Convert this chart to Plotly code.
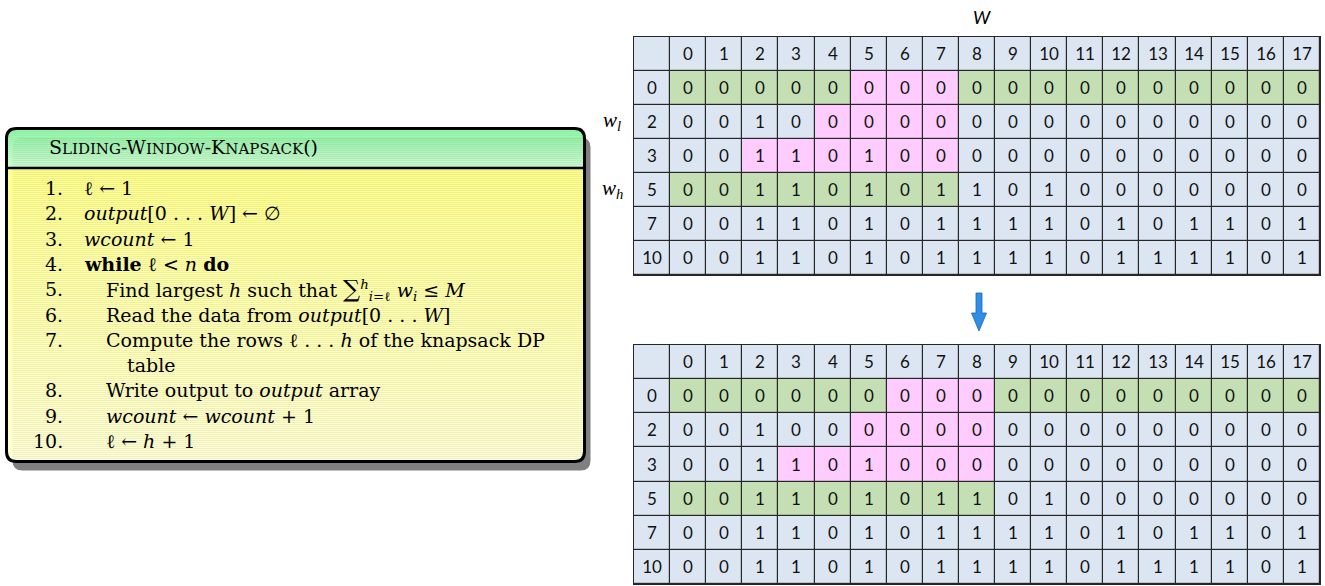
import plotly.graph_objects as go

W_PX, H_PX = 1325, 586

# ---------------- data ----------------
col_labels = ["0", "1", "2", "3", "4", "5", "6", "7", "8", "9",
              "10", "11", "12", "13", "14", "15", "16", "17"]
row_labels = ["0", "2", "3", "5", "7", "10"]

dp_values = [
    [0, 0, 0, 0, 0, 0, 0, 0, 0, 0, 0, 0, 0, 0, 0, 0, 0, 0],
    [0, 0, 1, 0, 0, 0, 0, 0, 0, 0, 0, 0, 0, 0, 0, 0, 0, 0],
    [0, 0, 1, 1, 0, 1, 0, 0, 0, 0, 0, 0, 0, 0, 0, 0, 0, 0],
    [0, 0, 1, 1, 0, 1, 0, 1, 1, 0, 1, 0, 0, 0, 0, 0, 0, 0],
    [0, 0, 1, 1, 0, 1, 0, 1, 1, 1, 1, 0, 1, 0, 1, 1, 0, 1],
    [0, 0, 1, 1, 0, 1, 0, 1, 1, 1, 1, 0, 1, 1, 1, 1, 0, 1],
]

# G = green (stored rows), P = pink (window being computed), . = plain
top_marks = [
    "GGGGGPPPGGGGGGGGGG",
    "....PPPP..........",
    "..PPPPPP..........",
    "GGGGGGGG..........",
    "..................",
    "..................",
]
bottom_marks = [
    "GGGGGGPPPGGGGGGGGG",
    ".....PPPP.........",
    "...PPPPPP.........",
    "GGGGGGGGG.........",
    "..................",
    "..................",
]

algo_numbers = ["1.", "2.", "3.", "4.", "5.", "6.", "7.", "", "8.", "9.", "10."]
algo_lines = [
    "ℓ ← 1",
    "<i>output</i>[0 . . . <i>W</i>] ← ∅",
    "<i>wcount</i> ← 1",
    "<b>while</b> ℓ < <i>n</i> <b>do</b>",
    "Find largest <i>h</i> such that <span style='font-size:24px'>∑</span><sup><i>h</i></sup><sub><i>i</i>=ℓ</sub> <i>w<sub>i</sub></i> ≤ <i>M</i>",
    "Read the data from <i>output</i>[0 . . . <i>W</i>]",
    "Compute the rows ℓ . . . <i>h</i> of the knapsack DP",
    "table",
    "Write output to <i>output</i> array",
    "<i>wcount</i> ← <i>wcount</i> + 1",
    "ℓ ← <i>h</i> + 1",
]
algo_indent = [0, 0, 0, 0, 1, 1, 1, 2, 1, 1, 1]

# ---------------- colours ----------------
C_BLUE = "#DCE6F2"
C_GREEN = "#C4DFB4"
C_PINK = "#FFCCFF"
C_GRID = "#262626"
code_of = {".": 0, "G": 1, "P": 2}


def px(x):
    return x / W_PX


def py(y):
    return 1 - y / H_PX


def build_grid(marks):
    z = [[0] * 19]
    text = [[" "] + col_labels]
    for r, lab in enumerate(row_labels):
        z.append([0] + [code_of[c] for c in marks[r]])
        text.append([lab] + [str(v) for v in dp_values[r]])
    return z, text


colorscale = [[0, C_BLUE], [0.3333, C_BLUE], [0.3334, C_GREEN], [0.6666, C_GREEN],
              [0.6667, C_PINK], [1, C_PINK]]

fig = go.Figure()
for idx, marks in enumerate([top_marks, bottom_marks]):
    z, text = build_grid(marks)
    fig.add_trace(go.Heatmap(
        z=z, text=text, texttemplate="%{text}",
        textfont=dict(family="Lato", size=17, color="#111111"),
        x=list(range(19)), y=list(range(7)),
        colorscale=colorscale, zmin=0, zmax=2, showscale=False,
        xgap=1.2, ygap=1.2, hoverinfo="skip",
        xaxis="x" if idx == 0 else "x2", yaxis="y" if idx == 0 else "y2",
    ))

ax_common = dict(showticklabels=False, showgrid=False, zeroline=False, ticks="",
                 showline=True, mirror=True, linecolor=C_GRID, linewidth=1.2,
                 fixedrange=True)
fig.update_layout(
    xaxis=dict(domain=[px(634), px(1320)], range=[-0.5, 18.5], anchor="y", **ax_common),
    yaxis=dict(domain=[py(275), py(37)], range=[6.5, -0.5], anchor="x", **ax_common),
    xaxis2=dict(domain=[px(634), px(1320)], range=[-0.5, 18.5], anchor="y2", **ax_common),
    yaxis2=dict(domain=[py(584), py(345)], range=[6.5, -0.5], anchor="x2", **ax_common),
)

shapes = []


def rrect_path(x0, y0, x1, y1, r):
    pts = [("M", [(x0 + r, y0)]), ("L", [(x1 - r, y0)]), ("Q", [(x1, y0), (x1, y0 + r)]),
           ("L", [(x1, y1 - r)]), ("Q", [(x1, y1), (x1 - r, y1)]), ("L", [(x0 + r, y1)]),
           ("Q", [(x0, y1), (x0, y1 - r)]), ("L", [(x0, y0 + r)]), ("Q", [(x0, y0), (x0 + r, y0)])]
    s = ""
    for cmd, ps in pts:
        s += cmd + " " + " ".join(f"{px(a):.6f},{py(b):.6f}" for a, b in ps) + " "
    return s + "Z"


def mix(c1, c2, t):
    a = [int(c1[i:i + 2], 16) for i in (1, 3, 5)]
    b = [int(c2[i:i + 2], 16) for i in (1, 3, 5)]
    return "rgb(%d,%d,%d)" % tuple(round(a[k] + (b[k] - a[k]) * t) for k in range(3))


BX0, BY0, BX1, BY1, BR = 6.5, 128.5, 584.5, 461.5, 10
HEAD_Y = 168

# shadow
shapes.append(dict(type="path", xref="paper", yref="paper",
                   path=rrect_path(BX0 + 6, BY0 + 9, BX1 + 6, BY1 + 9, BR),
                   fillcolor="#808080", line=dict(width=0), layer="below"))

# gradient bands
step = 2
y = BY0
while y < BY1:
    y2 = min(y + step, BY1)
    ym = (y + y2) / 2
    if ym < HEAD_Y:
        col = mix("#84EF9C", "#CDFBD0", (ym - BY0) / (HEAD_Y - BY0))
    else:
        col = mix("#FFFF8A", "#FFFFD4", (ym - HEAD_Y) / (BY1 - HEAD_Y))
    inset = 0
    if ym < BY0 + BR:
        d = BY0 + BR - ym
        inset = BR - (BR * BR - d * d) ** 0.5
    elif ym > BY1 - BR:
        d = ym - (BY1 - BR)
        inset = BR - (BR * BR - d * d) ** 0.5
    shapes.append(dict(type="rect", xref="paper", yref="paper",
                       x0=px(BX0 + inset), x1=px(BX1 - inset), y0=py(y2 + 0.3), y1=py(y),
                       fillcolor=col, line=dict(width=0), layer="below"))
    y = y2

shapes.append(dict(type="line", xref="paper", yref="paper", x0=px(BX0), x1=px(BX1),
                   y0=py(HEAD_Y), y1=py(HEAD_Y), line=dict(color="black", width=2.5)))
shapes.append(dict(type="path", xref="paper", yref="paper",
                   path=rrect_path(BX0, BY0, BX1, BY1, BR),
                   line=dict(color="black", width=3)))

# blue arrow
arrow_pts = [(976, 293), (982, 293), (982, 313), (986.5, 313), (979, 331),
             (971.5, 313), (976, 313)]
apath = "M " + " L ".join(f"{px(a):.6f},{py(b):.6f}" for a, b in arrow_pts) + " Z"
shapes.append(dict(type="path", xref="paper", yref="paper", path=apath,
                   fillcolor="#2F8EE6", line=dict(color="#1D66B8", width=0.8)))

annotations = []
SERIF = "DejaVu Serif"
sc = "<span style='font-size:15px'>"
title = ("S" + sc + "LIDING</span>-W" + sc + "INDOW</span>-K" + sc + "NAPSACK</span>()")
annotations.append(dict(text=title, x=px(47), y=py(147), xref="paper", yref="paper",
                        xanchor="left", yanchor="middle", showarrow=False,
                        font=dict(family=SERIF, size=19, color="black")))

line_y0, line_dy = 188, 25.3
indent_x = [82, 104, 125]
for i, (num, txt) in enumerate(zip(algo_numbers, algo_lines)):
    yy = line_y0 + i * line_dy
    if num:
        annotations.append(dict(text=num, x=px(65), y=py(yy), xref="paper", yref="paper",
                                xanchor="right", yanchor="middle", showarrow=False,
                                font=dict(family=SERIF, size=19, color="black")))
    annotations.append(dict(text=txt, x=px(indent_x[algo_indent[i]]), y=py(yy),
                            xref="paper", yref="paper", xanchor="left", yanchor="middle",
                            showarrow=False, font=dict(family=SERIF, size=19, color="black")))

annotations.append(dict(text="<i>W</i>", x=px(982), y=py(17), xref="paper", yref="paper",
                        xanchor="center", yanchor="middle", showarrow=False,
                        font=dict(family="Lato", size=18, color="black")))
for lab, yy in [("<i>w<sub>l</sub></i>", 121), ("<i>w<sub>h</sub></i>", 189)]:
    annotations.append(dict(text=lab, x=px(612), y=py(yy), xref="paper", yref="paper",
                            xanchor="center", yanchor="middle", showarrow=False,
                            font=dict(family="Liberation Serif", size=21, color="black")))

fig.update_layout(
    width=W_PX, height=H_PX, margin=dict(l=0, r=0, t=0, b=0),
    paper_bgcolor="white", plot_bgcolor=C_GRID,
    shapes=shapes, annotations=annotations, showlegend=False,
)

fig.write_html("out.html", config={"displayModeBar": False},
               post_script="document.body.style.margin='0';")
